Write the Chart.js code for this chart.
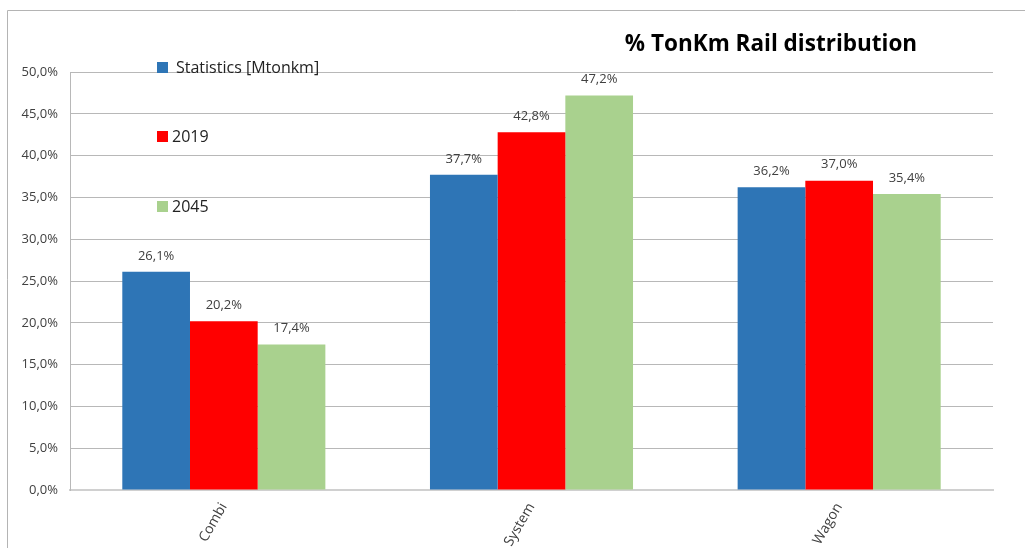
<!DOCTYPE html>
<html>
<head>
<meta charset="utf-8">
<script src="https://cdn.jsdelivr.net/npm/chart.js@4"></script>
<style>
  body { margin: 0; background: #fff; }
  #wrap { width: 1025px; height: 548px; position: relative; }
</style>
</head>
<body>
<div id="wrap"><canvas id="railChart" width="1025" height="548"></canvas></div>
<script>
const categories = ["Combi", "System", "Wagon"];
const seriesNames = ["Statistics [Mtonkm]", "2019", "2045"];
const statistics = [26.1, 37.7, 36.2];
const y2019 = [20.2, 42.8, 37.0];
const y2045 = [17.4, 47.2, 35.4];
const colors = ["#2E75B6", "#FF0000", "#A9D18E"];
const chartTitle = "% TonKm Rail distribution";

const fmt = v => v.toFixed(1).replace(".", ",") + "%";
const FONT = "'Open Sans', 'Liberation Sans', sans-serif";

// outer frame, title, legend and value labels
const extras = {
  id: "extras",
  beforeDraw(chart) {
    const ctx = chart.ctx;
    ctx.save();
    ctx.strokeStyle = "#b4b4b4";
    ctx.lineWidth = 1;
    ctx.beginPath();
    ctx.moveTo(7.5, 548);
    ctx.lineTo(7.5, 10.5);
    ctx.lineTo(1025, 10.5);
    ctx.stroke();
    ctx.restore();
  },
  afterDatasetsDraw(chart) {
    const ctx = chart.ctx;
    ctx.save();
    // value labels
    ctx.font = "13px " + FONT;
    ctx.fillStyle = "#404040";
    ctx.textAlign = "center";
    ctx.textBaseline = "middle";
    chart.data.datasets.forEach((ds, i) => {
      chart.getDatasetMeta(i).data.forEach((bar, j) => {
        ctx.fillText(fmt(ds.data[j]), bar.x, bar.y - 16);
      });
    });
    // legend
    ctx.font = "16px " + FONT;
    ctx.textAlign = "left";
    const legendY = [67, 136, 206];
    chart.data.datasets.forEach((ds, i) => {
      ctx.fillStyle = ds.backgroundColor;
      ctx.fillRect(157, legendY[i] - 5, 11, 11);
      ctx.fillStyle = "#222";
      ctx.fillText(ds.label, i === 0 ? 176 : 172, legendY[i] + 1);
    });
    // title
    ctx.font = "bold 22.5px " + FONT;
    ctx.fillStyle = "#000";
    ctx.textAlign = "center";
    ctx.fillText(chartTitle, 771, 45);
    ctx.restore();
  }
};

new Chart(document.getElementById("railChart"), {
  type: "bar",
  data: {
    labels: categories,
    datasets: [
      { label: seriesNames[0], data: statistics, backgroundColor: colors[0] },
      { label: seriesNames[1], data: y2019, backgroundColor: colors[1] },
      { label: seriesNames[2], data: y2045, backgroundColor: colors[2] }
    ]
  },
  options: {
    responsive: false,
    animation: false,
    layout: { padding: { top: 72, right: 32, left: 0, bottom: 0 } },
    categoryPercentage: 0.66,
    barPercentage: 1.0,
    plugins: {
      legend: { display: false },
      tooltip: { enabled: false },
      title: { display: false }
    },
    scales: {
      x: {
        grid: { display: false, drawTicks: false },
        border: { color: "#d0d0d0", width: 2 },
        ticks: {
          font: { family: FONT, size: 14 },
          color: "#404040",
          minRotation: 60,
          maxRotation: 60,
          padding: 10
        },
        afterFit(axis) { axis.height = 58; }
      },
      y: {
        min: 0,
        max: 50,
        grid: { color: "#b8b8b8", drawTicks: false },
        border: { color: "#b8b8b8" },
        ticks: {
          stepSize: 5,
          font: { family: FONT, size: 13 },
          color: "#404040",
          padding: 12,
          callback: v => fmt(v)
        },
        afterFit(axis) { axis.width = 70; }
      }
    }
  },
  plugins: [extras]
});
</script>
</body>
</html>
